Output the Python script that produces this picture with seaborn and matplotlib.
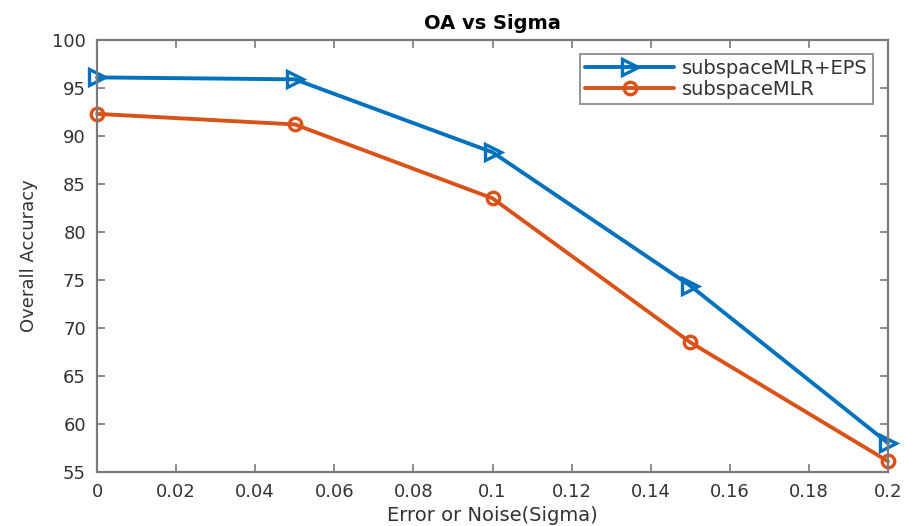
import matplotlib
matplotlib.use("Agg")
import matplotlib.pyplot as plt
import seaborn as sns
import pandas as pd

sigma = [0, 0.05, 0.1, 0.15, 0.2]
oa_eps = [96.1, 95.9, 88.3, 74.4, 58.0]
oa_mlr = [92.3, 91.2, 83.5, 68.5, 56.1]
labels = ["subspaceMLR+EPS", "subspaceMLR"]
colors = ["#0072BD", "#D95319"]

sns.set_theme(style="white")
plt.rcParams['font.family'] = ['DejaVu Sans']

fig = plt.figure(figsize=(9.07, 5.26), dpi=100)
ax = fig.add_axes([0.107, 0.103, 0.872, 0.821])

df1 = pd.DataFrame({"x": sigma, "y": oa_eps})
df2 = pd.DataFrame({"x": sigma, "y": oa_mlr})
sns.lineplot(data=df1, x="x", y="y", ax=ax, color=colors[0], marker=">",
             markersize=11, markerfacecolor="none", markeredgewidth=2.4,
             markeredgecolor=colors[0], linewidth=2.8, label=labels[0], clip_on=False)
sns.lineplot(data=df2, x="x", y="y", ax=ax, color=colors[1], marker="o",
             markersize=9, markerfacecolor="none", markeredgewidth=2.4,
             markeredgecolor=colors[1], linewidth=2.8, label=labels[1], clip_on=False)

ax.set_xlim(0, 0.2)
ax.set_ylim(55, 100)
ax.set_xticks([0, 0.02, 0.04, 0.06, 0.08, 0.1, 0.12, 0.14, 0.16, 0.18, 0.2])
ax.set_xticklabels(["0", "0.02", "0.04", "0.06", "0.08", "0.1", "0.12", "0.14", "0.16", "0.18", "0.2"])
ax.set_yticks(list(range(55, 101, 5)))
ax.tick_params(direction="in", length=6, width=1.2, colors="#7a7a7a", labelsize=13,
               top=True, right=True, bottom=True, left=True, labelcolor="#333333", pad=8)
for s in ax.spines.values():
    s.set_color("#7a7a7a")
    s.set_linewidth(1.6)
ax.set_xlabel("Error or Noise(Sigma)", fontsize=14, color="#333333", labelpad=4)
ax.set_ylabel("Overall Accuracy", fontsize=13, color="#333333", labelpad=10)
ax.set_title("OA vs Sigma", fontsize=14, fontweight="bold", color="black", pad=8)

leg = ax.legend(loc="upper right", bbox_to_anchor=(0.993, 0.99), fontsize=14,
                frameon=True, fancybox=False, handlelength=4.6, borderpad=0.25,
                labelspacing=0.1, handletextpad=0.4)
leg.get_frame().set_edgecolor("#7a7a7a")
leg.get_frame().set_linewidth(1.4)
for t in leg.get_texts():
    t.set_color("#333333")

fig.savefig("out.png", dpi=100)
